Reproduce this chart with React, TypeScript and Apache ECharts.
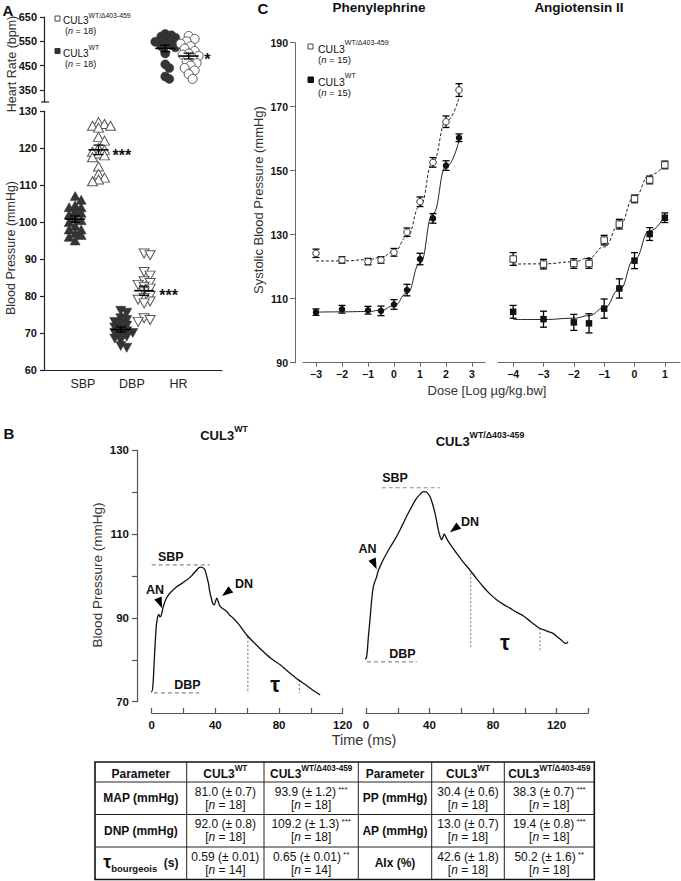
import React, { useEffect, useRef } from 'react';
import * as echarts from 'echarts';

const FF = '"Liberation Sans", Arial, Helvetica, sans-serif';

// ---------------- Panel A data ----------------
const categoriesA = ['SBP', 'DBP', 'HR'];
const sbpWT = [107, 106, 104.5, 104, 104, 103, 102.5, 102, 101, 100.5, 100, 99, 98, 98, 97, 96.5, 96, 95];
const sbpMut = [127, 126.5, 126, 126, 125.5, 123, 122, 120, 119.5, 119, 118.5, 118, 117.5, 115, 113, 112, 111.5, 111];
const dbpWT = [76, 75.5, 74, 73.5, 73, 72.5, 72, 71.5, 71, 70.5, 70, 70, 69.5, 69, 68.5, 68, 66.5, 66];
const dbpMut = [91.5, 91, 86.5, 85.5, 84, 83.5, 83, 82.5, 82, 81, 80, 79.5, 79, 78.5, 78, 74, 73.5, 73];
const hrWT = [580, 575, 570, 565, 560, 555, 550, 548, 545, 540, 535, 530, 525, 500, 455, 440, 405, 395];
const hrMut = [572, 560, 550, 540, 530, 520, 510, 500, 495, 490, 480, 470, 460, 450, 440, 430, 415, 395];
const hrTickLabels = [350, 450, 550, 650];
const sigA = ['***', '***', '*'];

// ---------------- Panel C data ----------------
const pheDose = [-3, -2, -1, -0.5, 0, 0.5, 1, 1.5, 2, 2.5];
const pheMut = [124.2, 122.1, 121.6, 122.1, 124.5, 130.8, 140.3, 152.6, 165.3, 175.2];
const pheMutErr = [1.3, 1.0, 1.0, 1.0, 1.2, 1.3, 1.5, 1.5, 1.8, 2.0];
const pheWT = [105.8, 106.7, 106.4, 106.2, 108.2, 112.7, 122.4, 135.1, 151.6, 160.3];
const pheWTErr = [1.0, 1.2, 1.2, 1.5, 1.5, 1.8, 1.8, 1.5, 1.5, 1.2];
const pheMutFit = [121.8, 121.8, 122.2, 122.9, 124.7, 129.3, 138.9, 152.8, 165.4, 172.8];
const pheWTFit = [105.8, 105.9, 106.0, 106.4, 107.8, 111.7, 121.0, 136.6, 151.2, 159.4];

const angDose = [-4, -3, -2, -1.5, -1, -0.5, 0, 0.5, 1];
const angMut = [122.4, 120.8, 121.0, 121.0, 128.3, 133.3, 141.2, 147.1, 151.8];
const angMutErr = [2.0, 1.5, 1.5, 1.5, 1.5, 1.5, 1.2, 1.2, 1.2];
const angWT = [105.9, 103.6, 102.6, 102.3, 106.9, 113.2, 121.9, 130.2, 135.3];
const angWTErr = [2.0, 2.5, 2.5, 3.0, 3.0, 3.0, 2.5, 2.0, 1.5];
const angMutFit = [120.8, 120.9, 121.5, 122.8, 126.2, 133.0, 141.8, 148.6, 152.0];
const angWTFit = [103.5, 103.5, 103.9, 104.7, 107.1, 112.8, 122.3, 131.2, 136.1];
const pheTicks = [-3, -2, -1, 0, 1, 2, 3];
const angTicks = [-4, -3, -2, -1, 0, 1];

// ---------------- Panel B data (pressure traces) ----------------
const wtTime = [-4.2, -2, 0, 0.8, 1.5, 2.2, 3, 3.8, 4.5, 5.2, 6, 7.3, 9, 11.5, 15.7, 19, 22, 25, 28.3, 30.4, 32, 33.5, 34.5, 35.6, 36.6, 37.7, 38.5, 39.4, 40.3, 40.9, 41.8, 43, 45, 47.2, 49, 51.3, 55, 59.7, 65, 70.2, 75, 80.7, 86, 92.2, 96, 99.6, 103, 105.8];
const wtPressure = [73.0, 72.6, 72.4, 74, 79, 84, 88.5, 90.3, 90.8, 90.2, 90.6, 92.7, 94.5, 95.9, 97.4, 98.2, 99, 100, 101.4, 102.1, 102, 101.4, 100, 98.3, 96, 94.3, 93.3, 93.1, 94.2, 94.7, 93.8, 92.7, 92.1, 91.5, 90.6, 89.9, 88.3, 85.9, 83.8, 81.9, 80.3, 78.8, 77.1, 75.2, 74.2, 73.2, 72.3, 71.6];
const mutTime = [-4.2, -2, 0, 0.8, 1.5, 2.5, 3.5, 4.6, 5.5, 6.7, 7.7, 8.8, 11.9, 15.5, 19.3, 22.5, 25.6, 28.8, 31.9, 34.5, 36.2, 37.8, 39, 40.3, 41.8, 43.4, 44.5, 45.5, 46.7, 47.7, 48.5, 49.3, 50.4, 51.8, 54, 57, 61, 65.4, 69.5, 73.8, 78, 82.2, 86.5, 90.6, 95, 99, 104, 109.4, 113.5, 117.8, 121, 123, 125, 126.2, 127.2];
const mutPressure = [81.1, 80.2, 80.3, 82, 85.5, 89.5, 94, 97.4, 98.5, 99.8, 101.2, 102.2, 104.6, 107, 109.4, 111.8, 114.2, 116.5, 118.5, 119.6, 120.1, 120, 119.6, 118.9, 117.3, 115, 113, 111, 109.3, 108.6, 109.3, 110, 109.2, 108.2, 107, 105.4, 103.4, 101.4, 99.4, 97.4, 95.7, 94.3, 93.2, 92.3, 91.3, 90.5, 89, 87.5, 86.9, 86.3, 85.3, 84.7, 84, 83.9, 84.3];
const wtSBP = 102.6, wtDBP = 72.1, mutSBP = 121, mutDBP = 79.5;
const wtSbpSpan = [0, 36.5], wtDbpSpan = [-7.4, 29.9];
const mutSbpSpan = [9.9, 46.5], mutDbpSpan = [-3.8, 31.9];
const wtTauLines = [[60.4, 85.5, 72.1], [92.8, 75.2, 72.1]];
const mutTauLines = [[65.9, 100.6, 82.7], [109.6, 87.5, 81.8]];

// ---------------- Table data ----------------
const tableParamsL = ['MAP (mmHg)', 'DNP (mmHg)', 'TAU'];
const tableWTL = ['81.0 (± 0.7)', '92.0 (± 0.8)', '0.59 (± 0.01)'];
const tableMutL = ['93.9 (± 1.2)', '109.2 (± 1.3)', '0.65 (± 0.01)'];
const tableSigL = ['***', '***', '**'];
const tableNWTL = [18, 18, 14];
const tableNMutL = [18, 18, 14];
const tableParamsR = ['PP (mmHg)', 'AP (mmHg)', 'AIx (%)'];
const tableWTR = ['30.4 (± 0.6)', '13.0 (± 0.7)', '42.6 (± 1.8)'];
const tableMutR = ['38.3 (± 0.7)', '19.4 (± 0.8)', '50.2 (± 1.6)'];
const tableSigR = ['***', '***', '**'];
const tableNWTR = [18, 18, 18];
const tableNMutR = [18, 18, 18];

// ---------------- helpers ----------------
function swarm(values: number[], center: number, pxPerVal: number, pxPerX: number, minDist: number, step: number) {
  const order = values.map((_, i) => i).sort((a, b) => values[b] - values[a]);
  const placed: number[][] = [];
  const xs: number[] = values.map(() => center);
  for (const i of order) {
    const py = values[i] * pxPerVal;
    let off = 0;
    for (let k = 0; k < 80; k++) {
      const cand = (k % 2 === 1 ? 1 : -1) * Math.ceil(k / 2) * step;
      const ok = placed.every(([qx, qy]) => Math.hypot(qx - cand, qy - py) >= minDist);
      if (ok) { off = cand; break; }
    }
    placed.push([off, py]);
    xs[i] = center + off / pxPerX;
  }
  return values.map((v, i) => [xs[i], v]);
}

function stats(v: number[]) {
  const n = v.length;
  const m = v.reduce((a, b) => a + b, 0) / n;
  const sd = Math.sqrt(v.reduce((a, b) => a + (b - m) * (b - m), 0) / (n - 1));
  return [m, sd / Math.sqrt(n)];
}

const R = (size: number, weight: any = 'normal', extra: any = {}) => ({
  fontSize: size, fontFamily: FF, fontWeight: weight, fill: '#111', ...extra,
});

const T = (x: number, y: number, text: string, style: any = {}, extra: any = {}) => ({
  type: 'text', x, y, silent: true, z: 20,
  style: { text, fontFamily: FF, fontSize: 12, fill: '#111', align: 'center', verticalAlign: 'middle', ...style },
  ...extra,
});

const supRich = (size: number, weight: any = 'normal', fill = '#111') => ({
  b: R(size, weight, { lineHeight: size + 4, verticalAlign: 'bottom', fill }),
  s: R(Math.round(size * 0.68 * 10) / 10, weight, { lineHeight: Math.round(size * 0.68) + 1, verticalAlign: 'top', fill }),
  i: R(size, weight, { lineHeight: size + 4, verticalAlign: 'bottom', fontStyle: 'italic', fill }),
});

const meanSemRender = (half: number, cap: number) => (params: any, api: any) => {
  const x = api.value(0), m = api.value(1), s = api.value(2);
  const c = api.coord([x, m]);
  const t = api.coord([x, m + s]);
  const b = api.coord([x, m - s]);
  const st = { stroke: '#000', lineWidth: 1.3 };
  const children: any[] = [
    { type: 'line', shape: { x1: c[0], y1: t[1], x2: c[0], y2: b[1] }, style: st },
    { type: 'line', shape: { x1: c[0] - cap, y1: t[1], x2: c[0] + cap, y2: t[1] }, style: st },
    { type: 'line', shape: { x1: c[0] - cap, y1: b[1], x2: c[0] + cap, y2: b[1] }, style: st },
  ];
  if (half > 0) children.push({ type: 'line', shape: { x1: c[0] - half, y1: c[1], x2: c[0] + half, y2: c[1] }, style: { stroke: '#000', lineWidth: 1.6 } });
  return { type: 'group', children };
};

function buildOption() {
  // layout slots for panel A groups (x in axis units)
  const slot = [1.4, 2.45, 3.45, 4.5, 5.45, 6.5];
  const labelPosA = [1.75, 3.95, 6.05];
  const bpPx = 3.7, hrPx = 0.2429, xPx = 22.25;
  const sw = [
    swarm(sbpWT, slot[0], bpPx, xPx, 5.5, 2),
    swarm(sbpMut, slot[1], bpPx, xPx, 5.5, 2),
    swarm(dbpWT, slot[2], bpPx, xPx, 5.5, 2),
    swarm(dbpMut, slot[3], bpPx, xPx, 5.5, 2),
    swarm(hrWT, slot[4], hrPx, xPx, 4.5, 2),
    swarm(hrMut, slot[5], hrPx, xPx, 5.5, 2),
  ];
  const bpStats = [sbpWT, sbpMut, dbpWT, dbpMut].map((v, i) => [slot[i], ...stats(v)]);
  const hrStats = [hrWT, hrMut].map((v, i) => [slot[4 + i], ...stats(v)]);

  const scatterA = (data: any, gi: number, symbol: string, filled: boolean, rotate = 0, size: any = 9) => ({
    type: 'scatter', xAxisIndex: gi, yAxisIndex: gi, data, symbol, symbolSize: size, symbolRotate: rotate, silent: true, z: 3,
    itemStyle: filled ? { color: '#353535', borderColor: '#2a2a2a', borderWidth: 0.5, opacity: 1 } : { color: '#fff', borderColor: '#555', borderWidth: 1, opacity: 1 },
  });
  const errC = (xs: number[], ys: number[], es: number[], gi: number) => ({
    type: 'custom', xAxisIndex: gi, yAxisIndex: gi, coordinateSystem: 'cartesian2d', silent: true, z: 3,
    encode: { x: 0, y: 1 }, data: xs.map((x, i) => [x, ys[i], es[i]]), renderItem: meanSemRender(0, 3.5),
  });
  const scatterC = (xs: number[], ys: number[], gi: number, symbol: string, filled: boolean) => ({
    type: 'scatter', xAxisIndex: gi, yAxisIndex: gi, data: xs.map((x, i) => [x, ys[i]]), symbol, symbolSize: 6.5, silent: true, z: 4,
    itemStyle: filled ? { color: '#111', opacity: 1 } : { color: '#fff', borderColor: '#333', borderWidth: 1, opacity: 1 },
  });
  const curve = (xs: number[], ys: number[], gi: number, dashed: boolean) => ({
    type: 'line', xAxisIndex: gi, yAxisIndex: gi, data: xs.map((x, i) => [x, ys[i]]), smooth: 0.5, smoothMonotone: 'x',
    showSymbol: false, symbol: 'none', silent: true, z: 2,
    lineStyle: { color: '#222', width: 1, type: dashed ? [3, 2] : 'solid' },
  });
  const trace = (ts: number[], ps: number[], gi: number) => ({
    type: 'line', xAxisIndex: gi, yAxisIndex: gi, data: ts.map((t, i) => [t, ps[i]]), smooth: 0.25, clip: false,
    showSymbol: false, symbol: 'none', silent: true, z: 3, lineStyle: { color: '#111', width: 1.3 },
  });
  const refLine = (pts: number[][], gi: number, type: any) => ({
    type: 'line', xAxisIndex: gi, yAxisIndex: gi, data: pts, clip: false, showSymbol: false, symbol: 'none', silent: true, z: 1,
    lineStyle: { color: '#8a8a8a', width: 1.2, type },
  });

  const axisLbl = (size: number, weight: any = 'bold', extra: any = {}) => ({ fontFamily: FF, fontSize: size, fontWeight: weight, color: '#111', ...extra });
  const fmtMinus = (v: number) => (v < 0 ? '\u2212' + Math.abs(v) : String(v));
  const line = (color: string, width: number) => ({ show: true, onZero: false, lineStyle: { color, width } });

  const xAxis: any[] = [
    { type: 'value', gridIndex: 0, min: 0, max: 8, show: false },
    {
      type: 'value', gridIndex: 1, min: 0, max: 8,
      axisLine: line('#222', 1.2), axisTick: { show: false }, splitLine: { show: false },
      axisLabel: {
        show: true, customValues: labelPosA, margin: 7,
        formatter: (v: number) => { const k = labelPosA.findIndex((p) => Math.abs(p - v) < 0.01); return k >= 0 ? categoriesA[k] : ''; },
        ...axisLbl(12.5, 'normal', { color: '#222' }),
      },
    },
    {
      type: 'value', gridIndex: 2, min: -3.5, max: 3.5, splitLine: { show: false },
      axisLine: line('#666', 1),
      axisTick: { show: true, customValues: pheTicks, length: 4, lineStyle: { color: '#666' } },
      axisLabel: { show: true, customValues: pheTicks, formatter: fmtMinus, margin: 6, ...axisLbl(10.5) },
    },
    {
      type: 'value', gridIndex: 3, min: -4.5, max: 1.5, splitLine: { show: false },
      axisLine: line('#666', 1),
      axisTick: { show: true, customValues: angTicks, length: 4, lineStyle: { color: '#666' } },
      axisLabel: { show: true, customValues: angTicks, formatter: fmtMinus, margin: 6, ...axisLbl(10.5) },
    },
    {
      type: 'value', gridIndex: 4, min: 0, max: 120, interval: 20, offset: 11.3, splitLine: { show: false },
      axisLine: line('#555', 1.2),
      axisTick: { show: true, inside: true, length: 5, lineStyle: { color: '#555', width: 1.2 } },
      axisLabel: { show: true, formatter: (v: number) => (v % 40 === 0 && v <= 120 ? String(v) : ''), margin: 6, ...axisLbl(11.5) },
    },
    {
      type: 'value', gridIndex: 5, min: 0, max: 140, interval: 20, offset: 11.3, splitLine: { show: false },
      axisLine: line('#555', 1.2),
      axisTick: { show: true, inside: true, length: 5, lineStyle: { color: '#555', width: 1.2 } },
      axisLabel: { show: true, formatter: (v: number) => (v % 40 === 0 && v <= 120 ? String(v) : ''), margin: 6, ...axisLbl(11.5) },
    },
    { type: 'value', gridIndex: 6, min: 0, max: 1, show: false },
    { type: 'value', gridIndex: 7, min: 0, max: 1, show: false },
  ];

  const yAxis: any[] = [
    {
      type: 'value', gridIndex: 0, min: 300, max: 650, splitLine: { show: false },
      axisLine: line('#222', 1.2),
      axisTick: { show: true, customValues: hrTickLabels, length: 4, lineStyle: { color: '#222', width: 1.2 } },
      axisLabel: { show: true, customValues: hrTickLabels, margin: 7, ...axisLbl(11) },
    },
    {
      type: 'value', gridIndex: 1, min: 60, max: 130, interval: 10, splitLine: { show: false },
      axisLine: line('#222', 1.2),
      axisTick: { show: true, length: 4, lineStyle: { color: '#222', width: 1.2 } },
      axisLabel: { show: true, margin: 7, ...axisLbl(11) },
    },
    { type: 'value', gridIndex: 2, min: 90, max: 190, show: false, splitLine: { show: false } },
    { type: 'value', gridIndex: 3, min: 90, max: 190, show: false, splitLine: { show: false } },
    { type: 'value', gridIndex: 4, min: 70, max: 130, show: false, splitLine: { show: false } },
    { type: 'value', gridIndex: 5, min: 70, max: 130, show: false, splitLine: { show: false } },
    {
      // visible pressure axis for panel B (standing apart from the time axes)
      type: 'value', gridIndex: 6, min: 70, max: 130, interval: 10, splitLine: { show: false },
      axisLine: line('#555', 1.2),
      axisTick: { show: true, length: 5, lineStyle: { color: '#555', width: 1.2 } },
      axisLabel: { show: true, formatter: (v: number) => ((v - 70) % 20 === 0 ? String(v) : ''), margin: 8, ...axisLbl(11.5) },
    },
    {
      // visible systolic pressure axis for panel C
      type: 'value', gridIndex: 7, min: 90, max: 190, interval: 20, splitLine: { show: false },
      axisLine: line('#666', 1),
      axisTick: { show: true, length: 5, lineStyle: { color: '#666' } },
      axisLabel: { show: true, margin: 7, ...axisLbl(10.5) },
    },
  ];

  const series: any[] = [
    scatterA(sw[0], 1, 'triangle', true, 0, [10, 9]),
    scatterA(sw[1], 1, 'triangle', false, 0, [10, 9]),
    scatterA(sw[2], 1, 'triangle', true, 180, [10, 9]),
    scatterA(sw[3], 1, 'triangle', false, 180, [10, 9]),
    scatterA(sw[4], 0, 'circle', true, 0, 9),
    scatterA(sw[5], 0, 'circle', false, 0, 9),
    { type: 'custom', xAxisIndex: 1, yAxisIndex: 1, coordinateSystem: 'cartesian2d', silent: true, z: 5, encode: { x: 0, y: 1 }, data: bpStats, renderItem: meanSemRender(10, 5) },
    { type: 'custom', xAxisIndex: 0, yAxisIndex: 0, coordinateSystem: 'cartesian2d', silent: true, z: 5, encode: { x: 0, y: 1 }, data: hrStats, renderItem: meanSemRender(10, 5) },

    curve(pheDose, pheMutFit, 2, true),
    curve(pheDose, pheWTFit, 2, false),
    curve(angDose, angMutFit, 3, true),
    curve(angDose, angWTFit, 3, false),
    errC(pheDose, pheMut, pheMutErr, 2),
    errC(pheDose, pheWT, pheWTErr, 2),
    errC(angDose, angMut, angMutErr, 3),
    errC(angDose, angWT, angWTErr, 3),
    scatterC(pheDose, pheMut, 2, 'circle', false),
    scatterC(pheDose, pheWT, 2, 'circle', true),
    scatterC(angDose, angMut, 3, 'rect', false),
    scatterC(angDose, angWT, 3, 'rect', true),

    trace(wtTime, wtPressure, 4),
    trace(mutTime, mutPressure, 5),
    refLine([[wtSbpSpan[0], wtSBP], [wtSbpSpan[1], wtSBP]], 4, [4, 3]),
    refLine([[wtDbpSpan[0], wtDBP], [wtDbpSpan[1], wtDBP]], 4, [4, 3]),
    refLine([[mutSbpSpan[0], mutSBP], [mutSbpSpan[1], mutSBP]], 5, [4, 3]),
    refLine([[mutDbpSpan[0], mutDBP], [mutDbpSpan[1], mutDBP]], 5, [4, 3]),
    ...wtTauLines.map((l) => refLine([[l[0], l[1]], [l[0], l[2]]], 4, [2, 2])),
    ...mutTauLines.map((l) => refLine([[l[0], l[1]], [l[0], l[2]]], 5, [2, 2])),
  ];

  return {
    animation: false,
    backgroundColor: '#fff',
    textStyle: { fontFamily: FF },
    grid: [
      { left: 44, top: 17, width: 178, height: 85 },
      { left: 44, top: 111, width: 178, height: 259 },
      { left: 303, top: 42.7, width: 182, height: 320 },
      { left: 498, top: 42.7, width: 182, height: 320 },
      { left: 151.7, top: 450, width: 191, height: 251.7 },
      { left: 366, top: 450, width: 222.3, height: 251.7 },
      { left: 137, top: 450, width: 8, height: 251.7 },
      { left: 295, top: 42.7, width: 6, height: 320 },
    ],
    xAxis, yAxis, series,
  };
}

function arrowHead(tip: number[], dx: number, dy: number, len = 11, half = 4) {
  const n = Math.hypot(dx, dy);
  const ux = dx / n, uy = dy / n;
  const bx = tip[0] - ux * len, by = tip[1] - uy * len;
  return {
    type: 'polygon', silent: true, z: 20,
    shape: { points: [[tip[0], tip[1]], [bx - uy * half, by + ux * half], [bx + uy * half, by - ux * half]] },
    style: { fill: '#000' },
  };
}

function buildGraphics(chart: any) {
  const px = (g: number, x: number, y: number) => chart.convertToPixel({ gridIndex: g }, [x, y]) as number[];
  const g: any[] = [];
  // Panel letters
  g.push(T(8, 10, 'A', { fontSize: 15, fontWeight: 'bold' }));
  g.push(T(263, 8, 'C', { fontSize: 15, fontWeight: 'bold' }));
  g.push(T(9, 433, 'B', { fontSize: 15, fontWeight: 'bold' }));

  // Panel A axis titles
  g.push(T(12, 64, 'Heart Rate (bpm)', { fontSize: 12.5, fill: '#333' }, { rotation: Math.PI / 2 }));
  g.push(T(11, 248, 'Blood Pressure (mmHg)', { fontSize: 12.5, fill: '#333' }, { rotation: Math.PI / 2 }));
  // HR axis break marker
  const brk = px(0, 0, 300);
  g.push({ type: 'line', silent: true, z: 20, shape: { x1: brk[0] - 3, y1: brk[1], x2: brk[0] + 5, y2: brk[1] }, style: { stroke: '#222', lineWidth: 1.2 } });

  // Panel A legend
  const rA = supRich(10);
  g.push({ type: 'rect', silent: true, z: 20, shape: { x: 55, y: 16, width: 5, height: 5 }, style: { fill: '#fff', stroke: '#444', lineWidth: 1 } });
  g.push(T(63, 18.5, '{b|CUL3}{s|WT/\u0394403-459}', { align: 'left', rich: rA }));
  g.push(T(65, 29, '{b|(}{i|n}{b| = 18)}', { align: 'left', rich: supRich(9) }));
  g.push({ type: 'rect', silent: true, z: 20, shape: { x: 55, y: 48.5, width: 5, height: 5 }, style: { fill: '#333', stroke: '#333', lineWidth: 1 } });
  g.push(T(63, 51, '{b|CUL3}{s|WT}', { align: 'left', rich: rA }));
  g.push(T(65, 62, '{b|(}{i|n}{b| = 18)}', { align: 'left', rich: supRich(9) }));

  // Panel A significance stars
  const starPos = [[1, 3.5, 118.9], [1, 5.6, 80.9], [0, 7.34, 486.6]];
  starPos.forEach((s, i) => {
    const p = px(s[0], s[1], s[2]);
    g.push(T(p[0], p[1] + 3, sigA[i], { fontSize: 16, fontWeight: 'bold' }));
  });

  // Panel C titles & legend
  g.push(T(379, 7, 'Phenylephrine', { fontSize: 13.5, fontWeight: 'bold' }));
  g.push(T(579, 7, 'Angiotensin II', { fontSize: 13.5, fontWeight: 'bold' }));
  g.push(T(258, 200, 'Systolic Blood Pressure (mmHg)', { fontSize: 13, fill: '#333' }, { rotation: Math.PI / 2 }));
  g.push(T(487, 390, 'Dose [Log \u00b5g/kg.bw]', { fontSize: 13, fill: '#333' }));
  const rC = supRich(10.5);
  g.push({ type: 'rect', silent: true, z: 20, shape: { x: 308, y: 44, width: 5, height: 5 }, style: { fill: '#fff', stroke: '#444', lineWidth: 1 } });
  g.push(T(318, 47, '{b|CUL3}{s|WT/\u0394403-459}', { align: 'left', rich: rC }));
  g.push(T(318, 58, '{b|(}{i|n}{b| = 15)}', { align: 'left', rich: supRich(9.5) }));
  g.push({ type: 'rect', silent: true, z: 20, shape: { x: 308, y: 77, width: 5.5, height: 5.5 }, style: { fill: '#111', stroke: '#111', lineWidth: 1 } });
  g.push(T(318, 80, '{b|CUL3}{s|WT}', { align: 'left', rich: rC }));
  g.push(T(318, 91, '{b|(}{i|n}{b| = 15)}', { align: 'left', rich: supRich(9.5) }));

  // Panel B titles and axis titles
  g.push(T(224, 433, '{b|CUL3}{s|WT}', { rich: supRich(13, 'bold') }));
  g.push(T(480, 439, '{b|CUL3}{s|WT/\u0394403-459}', { rich: supRich(13, 'bold') }));
  g.push(T(97, 575, 'Blood Pressure (mmHg)', { fontSize: 13.5, fill: '#333' }, { rotation: Math.PI / 2 }));
  g.push(T(364, 740, 'Time (ms)', { fontSize: 14.5, fill: '#333' }));

  // Panel B annotations
  const annW: any[] = [['SBP', 12, 104.5], ['DBP', 22.5, 74], ['AN', 2.1, 96.6], ['DN', 58, 98.1]];
  const annM: any[] = [['SBP', 18.3, 123.3], ['DBP', 23, 81.3], ['AN', 0.9, 106.4], ['DN', 65.5, 112.8]];
  annW.forEach((a) => { const p = px(4, a[1], a[2]); g.push(T(p[0], p[1], a[0], { fontSize: 12.5, fontWeight: 'bold' })); });
  annM.forEach((a) => { const p = px(5, a[1], a[2]); g.push(T(p[0], p[1], a[0], { fontSize: 12.5, fontWeight: 'bold' })); });
  const tw = px(4, 77.5, 74); g.push(T(tw[0], tw[1], '\u03c4', { fontSize: 22, fontWeight: 'bold' }));
  const tm = px(5, 87.5, 84.1); g.push(T(tm[0], tm[1], '\u03c4', { fontSize: 22, fontWeight: 'bold' }));
  const arrW: any[] = [[6.5, 92.3, 0.4, 1], [44.2, 95.2, -0.8, 0.6]];
  const arrM: any[] = [[6.7, 101.6, 0.45, 1], [52.9, 110.4, -0.8, 0.6]];
  arrW.forEach((a) => g.push(arrowHead(px(4, a[0], a[1]), a[2], a[3])));
  arrM.forEach((a) => g.push(arrowHead(px(5, a[0], a[1]), a[2], a[3])));

  // Table
  const cols = [95, 186.7, 264, 358.3, 431.7, 504.3, 594.3];
  const rows = [762, 782, 814.5, 847, 879.5];
  const lineSt = { stroke: '#222', lineWidth: 1 };
  g.push({ type: 'rect', silent: true, z: 20, shape: { x: cols[0], y: rows[0], width: cols[6] - cols[0], height: rows[4] - rows[0] }, style: { fill: 'none', stroke: '#111', lineWidth: 1.6 } });
  for (let i = 1; i < cols.length - 1; i++) g.push({ type: 'line', silent: true, z: 20, shape: { x1: cols[i], y1: rows[0], x2: cols[i], y2: rows[4] }, style: lineSt });
  for (let j = 1; j < rows.length - 1; j++) g.push({ type: 'line', silent: true, z: 20, shape: { x1: cols[0], y1: rows[j], x2: cols[6], y2: rows[j] }, style: lineSt });
  const cx = (i: number) => (cols[i] + cols[i + 1]) / 2;
  const cy = (j: number) => (rows[j] + rows[j + 1]) / 2;
  const hr = supRich(12, 'bold');
  const headers = ['{b|Parameter}', '{b|CUL3}{s|WT}', '{b|CUL3}{s|WT/\u0394403-459}'];
  for (let h = 0; h < 6; h++) g.push(T(cx(h), cy(0), headers[h % 3], { rich: hr }));
  const cellRich = {
    v: R(12, 'normal', { lineHeight: 13 }),
    i: R(12, 'normal', { lineHeight: 13, fontStyle: 'italic' }),
    st: R(8, 'normal', { lineHeight: 8, verticalAlign: 'top' }),
  };
  const cell = (val: string, n: number, sig?: string) => `{v|${val}}${sig ? `{st| ${sig}}` : ''}\n{v|[}{i|n}{v| = ${n}]}`;
  const pr = R(12, 'bold', { lineHeight: 15 });
  const tauRich = {
    t: R(18, 'bold', { lineHeight: 16, verticalAlign: 'top' }),
    sub: R(9.5, 'bold', { lineHeight: 10, verticalAlign: 'bottom' }),
    b: R(12, 'bold', { lineHeight: 20 }),
  };
  for (let r = 0; r < 3; r++) {
    if (tableParamsL[r] === 'TAU') g.push(T(cx(0), cy(r + 1), '{t|\u03c4}{sub|bourgeois}{b|  (s)}', { rich: tauRich }));
    else g.push(T(cx(0), cy(r + 1), `{p|${tableParamsL[r]}}`, { rich: { p: pr } }));
    g.push(T(cx(1), cy(r + 1), cell(tableWTL[r], tableNWTL[r]), { rich: cellRich }));
    g.push(T(cx(2), cy(r + 1), cell(tableMutL[r], tableNMutL[r], tableSigL[r]), { rich: cellRich }));
    g.push(T(cx(3), cy(r + 1), `{p|${tableParamsR[r]}}`, { rich: { p: pr } }));
    g.push(T(cx(4), cy(r + 1), cell(tableWTR[r], tableNWTR[r]), { rich: cellRich }));
    g.push(T(cx(5), cy(r + 1), cell(tableMutR[r], tableNMutR[r], tableSigR[r]), { rich: cellRich }));
  }
  return g;
}

export default function App() {
  const ref = useRef<HTMLDivElement>(null);
  useEffect(() => {
    document.body.style.margin = '0';
    const chart = echarts.init(ref.current as HTMLDivElement, null, { renderer: 'svg' });
    chart.setOption(buildOption() as any);
    chart.setOption({ graphic: buildGraphics(chart) } as any);
    return () => chart.dispose();
  }, []);
  return <div ref={ref} style={{ width: 681, height: 881 }} />;
}
